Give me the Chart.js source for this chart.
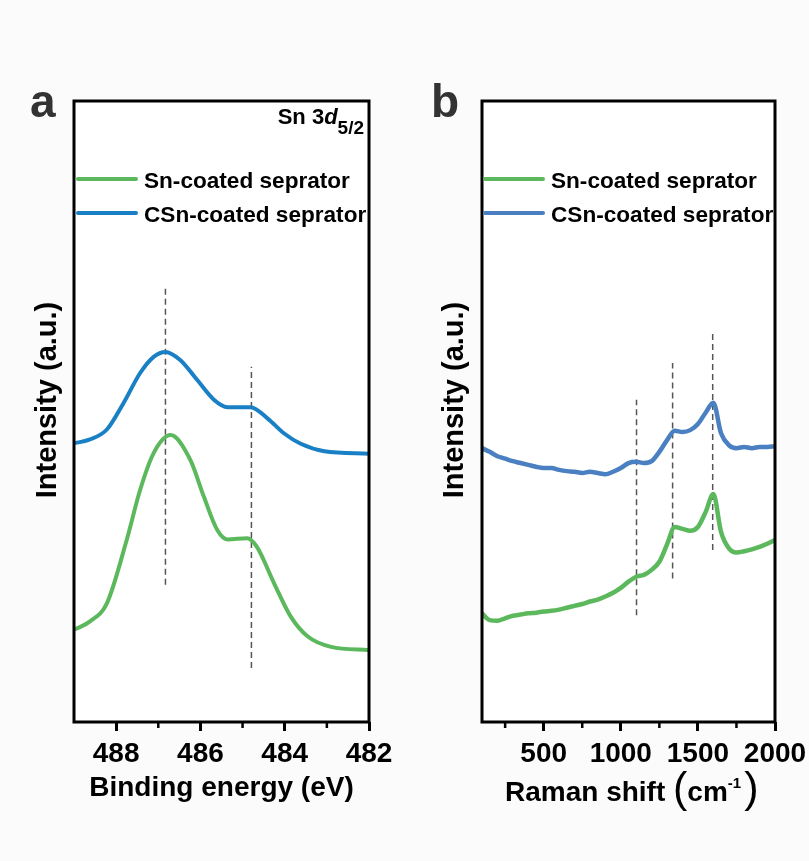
<!DOCTYPE html>
<html>
<head>
<meta charset="utf-8">
<script src="https://cdn.jsdelivr.net/npm/chart.js@4.4.0/dist/chart.umd.min.js"></script>
<style>
  body { margin: 0; background: #fbfbfb; font-family: "Liberation Sans", Arial, sans-serif; overflow: hidden; }
  #wrap { position: relative; width: 809px; height: 861px; overflow: hidden; }
  .panel { position: absolute; top: 0; }
  .txt { position: absolute; font-weight: bold; color: #000; white-space: nowrap; }
  .tag { font-size: 46px; line-height: 46px; color: #333; }
  .leg { font-size: 22.6px; line-height: 22px; }
  .mark { position: absolute; height: 4px; width: 62px; border-radius: 2px; }
  .ytitle { font-size: 29px; line-height: 30px; width: 240px; text-align: center; transform: rotate(-90deg); }
</style>
</head>
<body>
<div id="wrap">
  <div class="panel" style="left:0;"><canvas id="xps" width="405" height="861"></canvas></div>
  <div class="panel" style="left:405px;"><canvas id="raman" width="412" height="861"></canvas></div>

  <div class="txt tag" style="left:30px; top:78px;">a</div>
  <div class="txt tag" style="left:431px; top:78px;">b</div>

  <div class="txt" style="right:445px; top:106px; font-size:22px; line-height:22px;">Sn 3<i>d</i><span style="font-size:19px; position:relative; top:10px;">5/2</span></div>

  <div class="txt ytitle" style="left:-74px; top:385px;">Intensity (a.u.)</div>
  <div class="txt ytitle" style="left:333px; top:385px;">Intensity (a.u.)</div>

  <div class="mark" id="legA1" style="left:76px; top:177px;"></div>
  <div class="txt leg" style="left:144px; top:170px;">Sn-coated seprator</div>
  <div class="mark" id="legA2" style="left:76px; top:211px;"></div>
  <div class="txt leg" style="left:144px; top:204px;">CSn-coated seprator</div>

  <div class="mark" id="legB1" style="left:483px; top:177px;"></div>
  <div class="txt leg" style="left:551px; top:170px;">Sn-coated seprator</div>
  <div class="mark" id="legB2" style="left:483px; top:211px;"></div>
  <div class="txt leg" style="left:551px; top:204px;">CSn-coated seprator</div>

  <div class="txt" style="left:505px; top:766px; font-size:28px; line-height:40px;">Raman shift <span style="font-size:43px; font-weight:normal; position:relative; top:1px;">(</span>cm<span style="font-size:15px; position:relative; top:-13px; margin-right:3px;">-1</span><span style="font-size:43px; font-weight:normal; position:relative; top:1px;">)</span></div>
</div>

<script>
// --- colours ---
const GREEN = '#5cb85c';
const BLUE_A = '#1a80c6';
const BLUE_B = '#4a80c2';
const DASH = '#555555';

// --- panel a: XPS Sn 3d5/2 ---
const xpsSnEnergy = [488.98, 488.62, 488.22, 487.75, 487.43, 487.11, 486.71, 486.24, 485.92, 485.60, 485.36, 484.89, 484.66, 484.25, 483.86, 483.46, 482.90, 482.00];
const xpsSnIntensity = [14.9, 16.2, 19.1, 29.3, 37.4, 43.3, 46.2, 42.2, 36.3, 30.9, 29.4, 29.6, 28.2, 22.3, 17.0, 13.8, 12.1, 11.6];
const xpsCSnEnergy = [488.98, 488.62, 488.22, 487.83, 487.43, 487.11, 486.83, 486.48, 486.08, 485.68, 485.36, 484.81, 484.41, 484.02, 483.62, 483.06, 482.00];
const xpsCSnIntensity = [44.9, 45.5, 47.1, 51.3, 56.2, 58.8, 59.6, 58.3, 55.1, 51.9, 50.7, 50.7, 48.9, 46.5, 44.8, 43.6, 43.2];
const xpsRefLines = [486.83, 484.79];
const xpsRefSpans = [[22.1, 70.0], [8.7, 57.2]];
const xpsMajorTicks = [488, 486, 484, 482];
const xpsMinorTicks = [483, 485, 487];

// --- panel b: Raman ---
const ramanShift = [100, 150, 200, 250, 300, 350, 400, 450, 500, 550, 600, 650, 700, 750, 800, 850, 900, 950, 1000, 1050, 1100, 1150, 1200, 1250, 1300, 1350, 1400, 1450, 1500, 1550, 1600, 1650, 1700, 1750, 1800, 1850, 1900, 1950, 2000];
const ramanSn = [17.5, 16.4, 16.3, 16.7, 17.1, 17.3, 17.5, 17.6, 17.8, 17.9, 18.1, 18.4, 18.7, 19.0, 19.4, 19.7, 20.2, 20.8, 21.6, 22.6, 23.4, 23.7, 24.5, 25.8, 28.6, 31.4, 31.1, 30.8, 31.4, 33.8, 36.7, 30.6, 28.0, 27.3, 27.5, 27.8, 28.2, 28.7, 29.3];
const ramanCSn = [44.1, 43.5, 42.8, 42.4, 42.0, 41.7, 41.4, 41.1, 40.9, 40.9, 40.6, 40.4, 40.3, 40.1, 40.3, 40.1, 39.9, 40.3, 40.9, 41.7, 41.9, 41.7, 42.0, 43.5, 45.4, 46.9, 46.7, 47.0, 48.0, 49.8, 51.4, 46.5, 44.6, 44.1, 44.3, 44.1, 44.3, 44.3, 44.4];
const ramanRefLines = [1102, 1336, 1596];
const ramanRefSpans = [[17.2, 51.9], [23.1, 57.8], [27.7, 62.6]];
const ramanMajorTicks = [500, 1000, 1500, 2000];
const ramanMinorTicks = [250, 750, 1250, 1750];

const FONT = '"Liberation Sans", Arial, sans-serif';

document.getElementById('legA1').style.background = GREEN;
document.getElementById('legA2').style.background = BLUE_A;
document.getElementById('legB1').style.background = GREEN;
document.getElementById('legB2').style.background = BLUE_B;

// box round the plot area plus the small unlabelled ticks
const framePlugin = {
    id: 'frame',
    beforeDraw(chart) {
        const a = chart.chartArea, ctx = chart.ctx;
        ctx.save();
        ctx.fillStyle = '#ffffff';
        ctx.fillRect(a.left, a.top, a.right - a.left, a.bottom - a.top);
        ctx.restore();
    },
    afterDraw(chart, args, opts) {
        const a = chart.chartArea, ctx = chart.ctx;
        ctx.save();
        ctx.strokeStyle = '#000';
        ctx.lineWidth = 3;
        ctx.strokeRect(a.left, a.top, a.right - a.left, a.bottom - a.top);
        ctx.lineWidth = 2.5;
        (opts.minor || []).forEach(v => {
            const px = chart.scales.x.getPixelForValue(v);
            ctx.beginPath();
            ctx.moveTo(px, a.bottom);
            ctx.lineTo(px, a.bottom + 6);
            ctx.stroke();
        });
        ctx.restore();
    }
};

function series(xs, ys, color, width) {
    return {
        data: xs.map((x, i) => ({x: x, y: ys[i]})),
        borderColor: color,
        borderWidth: width,
        pointRadius: 0,
        fill: false,
        cubicInterpolationMode: 'monotone'
    };
}

function refLines(xs, spans) {
    return xs.map((x, i) => ({
        data: [{x: x, y: spans[i][0]}, {x: x, y: spans[i][1]}],
        borderColor: DASH,
        borderWidth: 1.5,
        borderDash: [6, 4],
        pointRadius: 0,
        fill: false
    }));
}

function makeOptions(cfg) {
    return {
        responsive: false,
        animation: false,
        layout: { padding: { left: cfg.yWidth, right: cfg.padRight, top: 101, bottom: 0 } },
        plugins: {
            legend: { display: false },
            tooltip: { enabled: false },
            frame: { minor: cfg.minor }
        },
        scales: {
            x: {
                type: 'linear',
                reverse: cfg.reverse,
                min: cfg.min,
                max: cfg.max,
                afterBuildTicks: axis => { axis.ticks = cfg.major.map(v => ({value: v})); },
                ticks: {
                    color: '#000',
                    padding: 6,
                    maxRotation: 0,
                    autoSkip: false,
                    callback: v => String(v),
                    font: { family: FONT, size: 28, weight: 'bold' }
                },
                grid: { drawOnChartArea: false, drawTicks: true, tickLength: 9, tickWidth: 3, tickColor: '#000' },
                border: { display: false },
                title: {
                    display: cfg.xTitle !== '',
                    text: cfg.xTitle,
                    color: '#000',
                    padding: { top: 0, bottom: 56 },
                    font: { family: FONT, size: 28, weight: 'bold' }
                },
                afterFit: axis => { axis.height = 139; }
            },
            y: { display: false, min: 0, max: 100 }
        }
    };
}

new Chart(document.getElementById('xps'), {
    type: 'line',
    data: {
        datasets: [
            series(xpsSnEnergy, xpsSnIntensity, GREEN, 4),
            series(xpsCSnEnergy, xpsCSnIntensity, BLUE_A, 4),
            ...refLines(xpsRefLines, xpsRefSpans)
        ]
    },
    options: makeOptions({
        padRight: 36, reverse: true, min: 482, max: 489, major: xpsMajorTicks,
        minor: xpsMinorTicks, xTitle: 'Binding energy (eV)', yWidth: 74
    }),
    plugins: [framePlugin]
});

new Chart(document.getElementById('raman'), {
    type: 'line',
    data: {
        datasets: [
            series(ramanShift, ramanSn, GREEN, 4.5),
            series(ramanShift, ramanCSn, BLUE_B, 4.5),
            ...refLines(ramanRefLines, ramanRefSpans)
        ]
    },
    options: makeOptions({
        padRight: 42, reverse: false, min: 100, max: 2000, major: ramanMajorTicks,
        minor: ramanMinorTicks, xTitle: '', yWidth: 77
    }),
    plugins: [framePlugin]
});
</script>
</body>
</html>
